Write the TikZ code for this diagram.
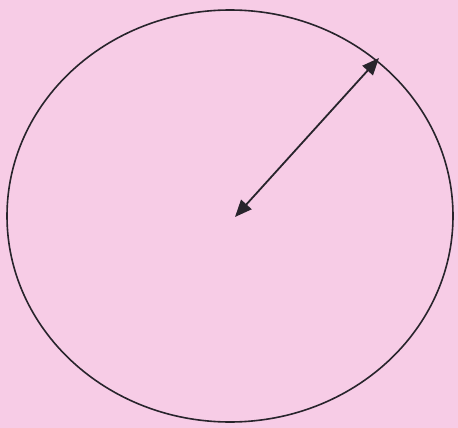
\documentclass[tikz,border=0pt]{standalone}
\usetikzlibrary{arrows.meta}
\definecolor{bgpink}{RGB}{247,204,230}
\definecolor{inkdark}{RGB}{40,36,44}
\begin{document}
\begin{tikzpicture}[x=1pt,y=-1pt,
  outline/.style={draw=inkdark,line width=1.6pt},
  radius arrow/.style={draw=inkdark,line width=1.8pt,
    {Triangle[length=17pt,width=14pt]}-{Triangle[length=17pt,width=14pt]}}]
  \fill[bgpink] (0,0) rectangle (458,428);
  \useasboundingbox (0,0) rectangle (458,428);
  \draw[outline] (230,216) ellipse [x radius=223, y radius=206];
  \coordinate (centre) at (235,217);
  \coordinate (rim) at (379,58);
  \draw[radius arrow] (centre) -- (rim);
\end{tikzpicture}
\end{document}
